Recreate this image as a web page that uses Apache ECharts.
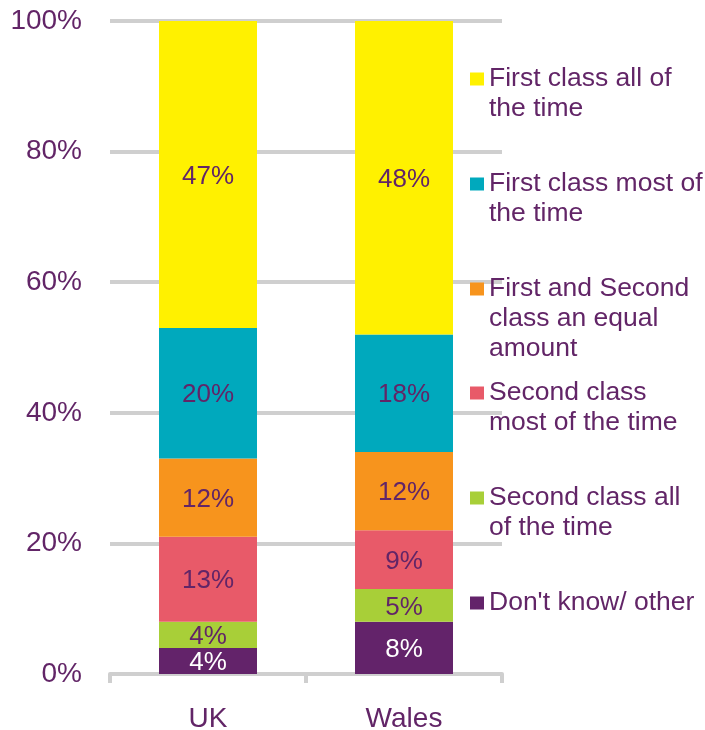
<!DOCTYPE html>
<html>
<head>
<meta charset="utf-8">
<script src="https://cdn.jsdelivr.net/npm/echarts@6/dist/echarts.min.js"></script>
<style>
  html, body { margin: 0; padding: 0; background: #fff; }
  #chart { width: 705px; height: 730px; }
</style>
</head>
<body>
<div id="chart"></div>
<script>
const categories = ['UK', 'Wales']
const yTicks = [0, 20, 40, 60, 80, 100]

// stacked bottom-up
const seriesNames = [
  "Don't know/ other",
  'Second class all of the time',
  'Second class most of the time',
  'First and Second class an equal amount',
  'First class most of the time',
  'First class all of the time'
]
const dontKnow = [4, 8]
const secondAll = [4, 5]
const secondMost = [13, 9]
const equalAmount = [12, 12]
const firstMost = [20, 18]
const firstAll = [47, 48]

// legend text as wrapped in the picture
const legendLines = {
  'First class all of the time': ['First class all of', 'the time'],
  'First class most of the time': ['First class most of', 'the time'],
  'First and Second class an equal amount': ['First and Second', 'class an equal', 'amount'],
  'Second class most of the time': ['Second class', 'most of the time'],
  'Second class all of the time': ['Second class all', 'of the time'],
  "Don't know/ other": ["Don't know/ other"]
}

const colors = ['#63236a', '#a8cf38', '#e85a69', '#f7941d', '#00a9bd', '#fff100']
const values = [dontKnow, secondAll, secondMost, equalAmount, firstMost, firstAll]
const textColor = '#622567'
const font = 'Liberation Sans, Arial, sans-serif'

const chart = echarts.init(document.getElementById('chart'))

const series = seriesNames.map((name, i) => ({
  name: name,
  type: 'bar',
  stack: 'total',
  barWidth: 98,
  data: values[i],
  itemStyle: { color: colors[i] },
  label: {
    show: true,
    position: 'inside',
    offset: [0, 2],
    formatter: '{c}%',
    color: i === 0 ? '#ffffff' : textColor,
    fontSize: 26,
    fontFamily: font
  }
}))

// one legend per entry so the marker sits on the first text line
const legendCenters = [77, 182, 287, 391, 496, 601]
const lh = 30
const legendOrder = seriesNames.slice().reverse()
const legends = legendOrder.map((name, i) => {
  const lines = legendLines[name]
  const n = lines.length
  const text = new Array(n - 1).fill('').concat(lines).join('\n')
  return {
    data: [name],
    left: 470,
    top: legendCenters[i] - (2 * n - 1) * lh / 2 + 2,
    padding: 0,
    itemWidth: 14,
    itemHeight: 13,
    icon: 'rect',
    selectedMode: false,
    formatter: () => text,
    textStyle: { color: textColor, fontSize: 26.5, fontFamily: font, lineHeight: lh }
  }
})

const option = {
  animation: false,
  grid: { left: 110, right: 203, top: 21, bottom: 56, outerBoundsMode: 'none' },
  legend: legends,
  xAxis: {
    type: 'category',
    data: categories,
    axisLine: { lineStyle: { color: '#cfcfcf', width: 4 } },
    axisTick: { show: true, length: 9, lineStyle: { color: '#cfcfcf', width: 4 } },
    axisLabel: { color: textColor, fontSize: 28, fontFamily: font, margin: 31 }
  },
  yAxis: {
    type: 'value',
    min: yTicks[0],
    max: yTicks[yTicks.length - 1],
    interval: 20,
    axisLine: { show: false },
    axisTick: { show: false },
    axisLabel: { color: textColor, fontSize: 28, fontFamily: font, margin: 28, formatter: '{value}%' },
    splitLine: { lineStyle: { color: '#cfcfcf', width: 4 } }
  },
  series: series
}

chart.setOption(option)
</script>
</body>
</html>
